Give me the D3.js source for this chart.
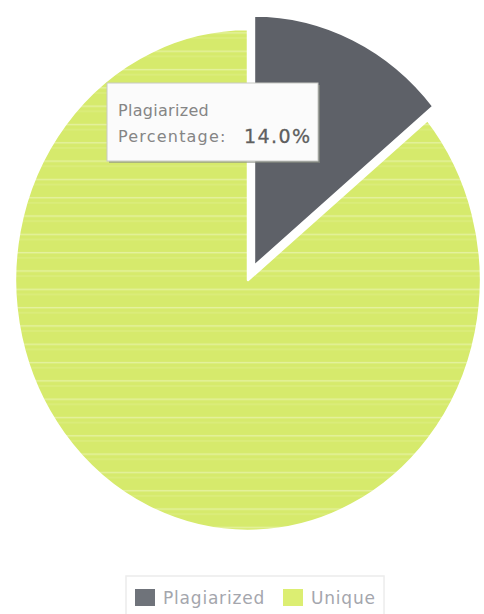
<!DOCTYPE html>
<html>
<head>
<meta charset="utf-8">
<script src="https://cdn.jsdelivr.net/npm/d3@7"></script>
<style>
  body { margin: 0; background: #fff; }
  text { font-family: "DejaVu Sans", Verdana, sans-serif; }
</style>
</head>
<body>
<div id="pie"></div>
<script>
    var svgWidth = 484;
    var svgHeight = 614;

    // chart data
    var categories = ["Plagiarized", "Unique"];
    var percentages = [14.0, 86.0];
    var sliceColors = ["#5e6168", "#d6ea6c"];
    var legendColors = ["#6f737a", "#dcee72"];

    // pie geometry (the photo is a bit taller than wide)
    var cx = 248, cy = 280;
    var radius = 233;
    var yStretch = 251 / 233;
    var explode = 14;

    var svg = d3
      .select("#pie")
      .append("svg")
      .attr("width", svgWidth)
      .attr("height", svgHeight);

    // faint horizontal scan lines seen on the green slice
    var defs = svg.append("defs");
    var stripes = defs.append("pattern")
      .attr("id", "stripes")
      .attr("patternUnits", "userSpaceOnUse")
      .attr("width", 8)
      .attr("height", 17);
    stripes.append("rect")
      .attr("width", 8).attr("height", 17)
      .attr("fill", sliceColors[1]);
    stripes.append("rect")
      .attr("y", 8).attr("width", 8).attr("height", 1.3)
      .attr("fill", "#fff").attr("opacity", 0.35);
    stripes.append("rect")
      .attr("y", 13).attr("width", 8).attr("height", 0.8)
      .attr("fill", "#fff").attr("opacity", 0.2);

    var pieData = categories.map(function(c, i) {
      return { name: c, value: percentages[i] };
    });

    var pie = d3.pie()
      .sort(null)
      .value(d => d.value);

    var arc = d3.arc()
      .innerRadius(0)
      .outerRadius(radius);

    var chartGroup = svg.append("g")
      .attr("transform", `translate(${cx}, ${cy}) scale(1, ${yStretch})`);

    chartGroup.selectAll("path")
      .data(pie(pieData))
      .enter()
      .append("path")
      .attr("d", arc)
      .attr("fill", (d, i) => i === 1 ? "url(#stripes)" : sliceColors[i])
      .attr("stroke", "#fff")
      .attr("stroke-width", 2.5)
      .attr("stroke-linejoin", "round")
      .attr("transform", function(d, i) {
        // pull the plagiarized slice out
        if (i !== 0) return null;
        var mid = (d.startAngle + d.endAngle) / 2;
        return `translate(${Math.sin(mid) * explode}, ${-Math.cos(mid) * explode})`;
      });

    // tooltip box
    var tip = svg.append("g")
      .attr("transform", "translate(107, 83)");

    tip.append("rect")
      .attr("x", 2).attr("y", 2)
      .attr("width", 211).attr("height", 78)
      .attr("fill", "#8a8d84")
      .attr("opacity", 0.6);

    tip.append("rect")
      .attr("width", 211).attr("height", 78)
      .attr("fill", "#fbfbfb")
      .attr("stroke", "#c8c9c4")
      .attr("stroke-width", 1);

    tip.append("text")
      .attr("x", 11).attr("y", 33)
      .attr("font-size", 16)
      .attr("fill", "#858585")
      .attr("letter-spacing", 0.3)
      .text(categories[0]);

    tip.append("text")
      .attr("x", 11).attr("y", 59)
      .attr("font-size", 16)
      .attr("fill", "#858585")
      .attr("letter-spacing", 1.2)
      .text("Percentage:");

    tip.append("text")
      .attr("x", 137).attr("y", 60)
      .attr("font-size", 19)
      .attr("fill", "#5f5f5f")
      .attr("stroke", "#5f5f5f")
      .attr("stroke-width", 0.3)
      .attr("letter-spacing", 1.4)
      .text(percentages[0].toFixed(1) + "%");

    // legend
    var legend = svg.append("g")
      .attr("transform", "translate(135, 589)");

    legend.append("rect")
      .attr("x", -9).attr("y", -13)
      .attr("width", 258).attr("height", 40)
      .attr("fill", "none")
      .attr("stroke", "#ececec")
      .attr("stroke-width", 1.5);

    var legendX = [0, 148];
    var item = legend.selectAll(".item")
      .data(categories)
      .enter()
      .append("g")
      .attr("transform", (d, i) => `translate(${legendX[i]}, 0)`);

    item.append("rect")
      .attr("width", 20).attr("height", 17)
      .attr("fill", (d, i) => legendColors[i]);

    item.append("text")
      .attr("x", 28).attr("y", 15)
      .attr("font-size", 17)
      .attr("fill", "#a4a6ad")
      .attr("letter-spacing", 0.8)
      .text(d => d);
</script>
</body>
</html>
